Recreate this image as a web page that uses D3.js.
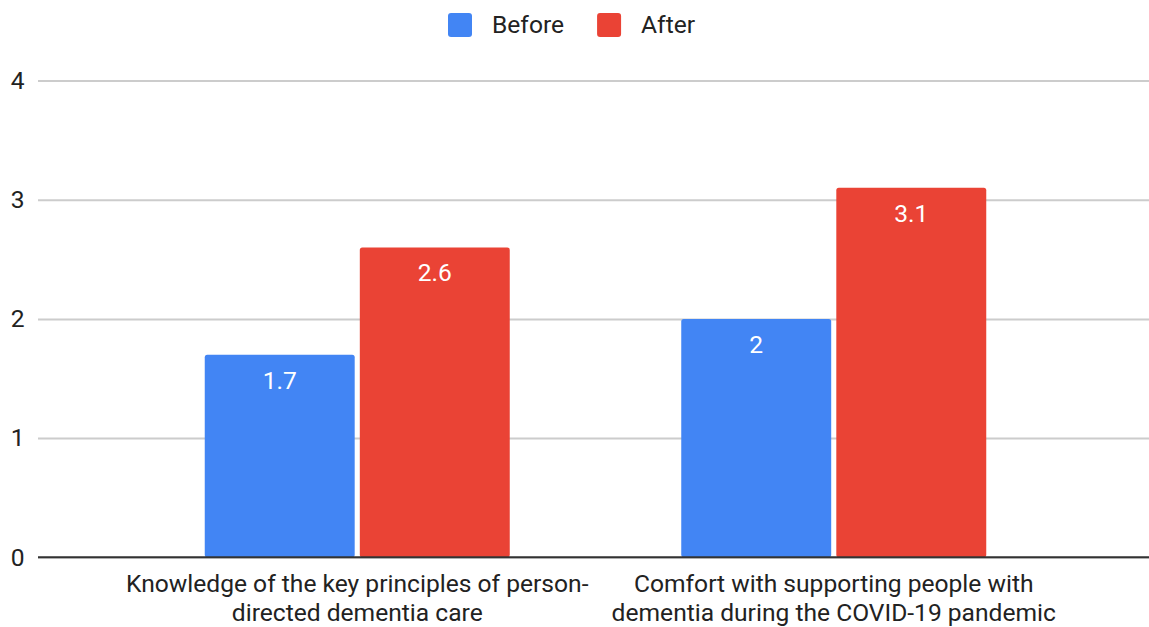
<!DOCTYPE html>
<html>
<head>
<meta charset="utf-8">
<script src="https://cdn.jsdelivr.net/npm/d3@7"></script>
<style>
  html, body { margin: 0; padding: 0; background: #fff; }
  svg { display: block; }
</style>
</head>
<body>
<svg id="chart" width="1149" height="627"></svg>
<script>
const categories = [
  ["Knowledge of the key principles of person-", "directed dementia care"],
  ["Comfort with supporting people with", "dementia during the COVID-19 pandemic"]
];
const categoryKeys = ["knowledge", "comfort"];
const seriesNames = ["Before", "After"];
const beforeValues = [1.7, 2.0];
const afterValues = [2.6, 3.1];
const valueLabels = [["1.7", "2"], ["2.6", "3.1"]];
const yTicks = [0, 1, 2, 3, 4];
const colors = ["#4285F4", "#EA4335"];

const svg = d3.select("#chart");
const gridLeft = 38, gridRight = 1149;
const SX = 1.07; // slight horizontal stretch seen in the reference text
const FONT = "Roboto, sans-serif";

function stretchedText(parent, x, yy, anchor, size, fill, str) {
  const g = parent.append("g").attr("transform", `translate(${x},${yy}) scale(${SX},1)`);
  const t = g.append("text").attr("x", 0).attr("y", 0)
    .attr("text-anchor", anchor)
    .attr("font-family", FONT).attr("font-size", size)
    .attr("fill", fill).text(str);
  return t;
}

const y = d3.scaleLinear().domain([0, 4]).range([557.3, 80.5]);
const x0 = d3.scaleBand().domain(categoryKeys).range([119, 1072]).padding(0);
const groupW = 305;
const x1 = d3.scaleBand().domain(seriesNames)
  .range([x0.bandwidth() / 2 - groupW / 2, x0.bandwidth() / 2 + groupW / 2])
  .paddingInner(0.033);

const seriesValues = [beforeValues, afterValues];

// gridlines
const yAxis = d3.axisLeft(y).tickValues(yTicks).tickSize(-(gridRight - gridLeft)).tickFormat("");
const gy = svg.append("g").attr("transform", `translate(${gridLeft},0)`).call(yAxis);
gy.select(".domain").remove();
gy.selectAll(".tick line").attr("stroke", "#cccccc").attr("stroke-width", 2);
// tick labels
const tickG = svg.append("g");
yTicks.forEach(v => {
  stretchedText(tickG, 24.5, y(v) + 8.3, "end", 23, "#222", d3.format("d")(v));
});

// bars
const groups = svg.append("g").selectAll("g")
  .data(categoryKeys).join("g")
  .attr("transform", d => `translate(${x0(d)},0)`);

groups.each(function(cat, ci) {
  const g = d3.select(this);
  seriesNames.forEach((s, si) => {
    const v = seriesValues[si][ci];
    g.append("rect")
      .attr("x", x1(s)).attr("width", x1.bandwidth())
      .attr("y", y(v)).attr("height", y(0) - y(v))
      .attr("rx", 2.5).attr("fill", colors[si]);
    stretchedText(g, x1(s) + x1.bandwidth() / 2, y(v) + 34, "middle", 23, "#ffffff", valueLabels[si][ci]);
  });
});

// zero line
svg.append("line")
  .attr("x1", gridLeft).attr("x2", gridRight)
  .attr("y1", y(0)).attr("y2", y(0))
  .attr("stroke", "#333").attr("stroke-width", 2);

// category labels
const catG = svg.append("g");
categoryKeys.forEach((k, i) => {
  categories[i].forEach((line, li) => {
    stretchedText(catG, x0(k) + x0.bandwidth() / 2, 592.3 + li * 28.7, "middle", 23, "#222", line);
  });
});

// legend
const legend = svg.append("g");
let lx = 448;
seriesNames.forEach((s, i) => {
  legend.append("rect").attr("x", lx).attr("y", 13).attr("width", 24).attr("height", 24)
    .attr("rx", 3).attr("fill", colors[i]);
  const t = stretchedText(legend, lx + 44, 33, "start", 23, "#222", s);
  lx = lx + 44 + t.node().getComputedTextLength() * SX + 33;
});
</script>
</body>
</html>
